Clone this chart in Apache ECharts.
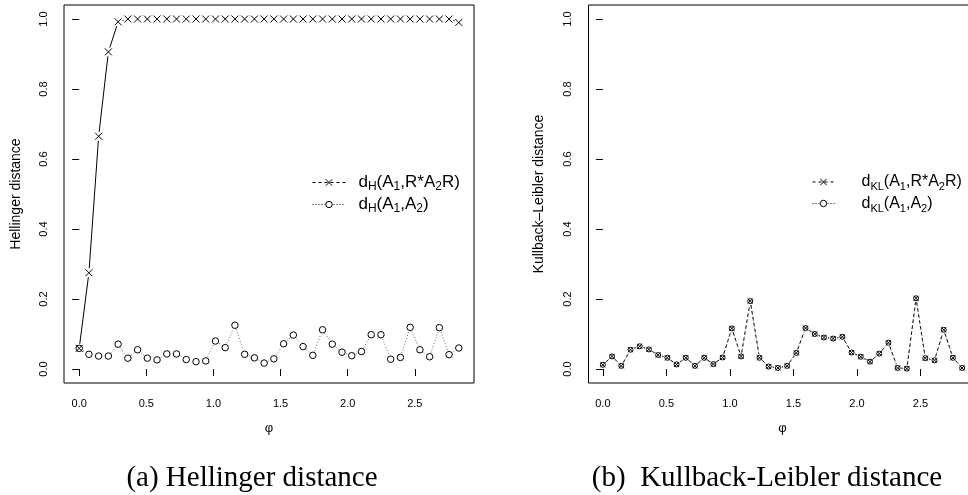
<!DOCTYPE html>
<html><head><meta charset="utf-8">
<script src="https://cdn.jsdelivr.net/npm/echarts@6/dist/echarts.min.js"></script>
<style>html,body{margin:0;padding:0;background:#fff}#c{width:968px;height:495px}</style>
</head><body><div id="c"></div>
<script>
// φ values (x positions of the 40 samples)
const phi = [0.0000,0.0725,0.1450,0.2175,0.2900,0.3625,0.4350,0.5075,0.5800,0.6525,
             0.7250,0.7975,0.8700,0.9425,1.0150,1.0875,1.1600,1.2325,1.3050,1.3775,
             1.4500,1.5225,1.5950,1.6675,1.7400,1.8125,1.8850,1.9575,2.0300,2.1025,
             2.1750,2.2475,2.3200,2.3925,2.4650,2.5375,2.6100,2.6825,2.7550,2.8275];
// Hellinger distance d_H(A1, R*A2R)
const hellRot = [0.059,0.275,0.665,0.906,0.992,1,1,1,1,1,
                 1,1,1,1,1,1,1,1,1,1,
                 1,1,1,1,1,1,1,1,1,1,
                 1,1,1,1,1,1,1,1,1,0.990];
// Hellinger distance d_H(A1, A2)
const hellA2 = [0.059,0.042,0.037,0.037,0.071,0.031,0.055,0.031,0.026,0.043,
                0.043,0.027,0.021,0.023,0.080,0.061,0.125,0.042,0.032,0.017,
                0.029,0.072,0.097,0.064,0.039,0.112,0.071,0.048,0.038,0.050,
                0.098,0.098,0.028,0.033,0.119,0.055,0.035,0.118,0.041,0.060];
// Kullback-Leibler distance d_KL(A1, R*A2R)
const klRot = [0.012,0.036,0.009,0.055,0.065,0.056,0.040,0.032,0.013,0.032,
               0.009,0.032,0.014,0.033,0.116,0.036,0.194,0.032,0.007,0.003,
               0.009,0.046,0.117,0.100,0.090,0.087,0.092,0.047,0.035,0.021,
               0.044,0.075,0.003,0.001,0.202,0.031,0.025,0.112,0.032,0.003];
// Kullback-Leibler distance d_KL(A1, A2)
const klA2 = [0.012,0.036,0.009,0.055,0.065,0.056,0.040,0.032,0.013,0.032,
              0.009,0.032,0.014,0.033,0.116,0.036,0.194,0.032,0.007,0.003,
              0.009,0.046,0.117,0.100,0.090,0.087,0.092,0.047,0.035,0.021,
              0.044,0.075,0.003,0.001,0.202,0.031,0.025,0.112,0.032,0.003];
const xTicks = [0, 0.5, 1, 1.5, 2, 2.5];
const yTicks = [0, 0.2, 0.4, 0.6, 0.8, 1.0];
const names = {
  hRot: 'd_H(A_1,R*A_2R)', hA2: 'd_H(A_1,A_2)',
  kRot: 'd_KL(A_1,R*A_2R)', kA2: 'd_KL(A_1,A_2)'
};
const richNames = {
  'd_H(A_1,R*A_2R)': '{m|d}{s|H}{m|(A}{s|1}{m|,R*A}{s|2}{m|R)}',
  'd_H(A_1,A_2)': '{m|d}{s|H}{m|(A}{s|1}{m|,A}{s|2}{m|)}',
  'd_KL(A_1,R*A_2R)': '{m|d}{s|KL}{m|(A}{s|1}{m|,R*A}{s|2}{m|R)}',
  'd_KL(A_1,A_2)': '{m|d}{s|KL}{m|(A}{s|1}{m|,A}{s|2}{m|)}'
};
const captions = ['(a) Hellinger distance', '(b)  Kullback-Leibler distance'];
const yTitles = ['Hellinger distance', 'Kullback\u2013Leibler distance'];

const FONT = '"Liberation Sans", Arial, Helvetica, sans-serif';
const CROSS = 'path://M0,0L10,10M0,10L10,0';

function pairs(ys) { return phi.map((x, i) => [x, ys[i]]); }
function segs(ys) {
  const out = [];
  for (let i = 0; i < phi.length - 1; i++) out.push([phi[i], ys[i], phi[i + 1], ys[i + 1]]);
  return out;
}
function gapLine(gi, ys, gap, style) {
  return {
    type: 'custom', xAxisIndex: gi, yAxisIndex: gi, silent: true, z: 1,
    data: segs(ys), encode: { x: [0, 2], y: [1, 3] }, animation: false,
    renderItem(params, api) {
      const a = api.coord([api.value(0), api.value(1)]);
      const b = api.coord([api.value(2), api.value(3)]);
      const dx = b[0] - a[0], dy = b[1] - a[1], L = Math.hypot(dx, dy);
      if (L <= 2 * gap + 1) return { type: 'group', children: [] };
      const ux = dx / L, uy = dy / L;
      return {
        type: 'line',
        shape: { x1: a[0] + ux * gap, y1: a[1] + uy * gap, x2: b[0] - ux * gap, y2: b[1] - uy * gap },
        style: Object.assign({ fill: null }, style)
      };
    }
  };
}
function marks(gi, name, ys, kind, size) {
  return {
    type: 'line', name, xAxisIndex: gi, yAxisIndex: gi, data: pairs(ys), z: 3,
    symbol: kind === 'x' ? CROSS : 'circle', symbolSize: size, showAllSymbol: true,
    lineStyle: { width: 0, opacity: 0 },
    itemStyle: { color: kind === 'x' ? '#000' : 'rgba(0,0,0,0)', borderColor: '#000', borderWidth: 1 },
    emphasis: { disabled: true }, animation: false
  };
}
function xAxis(gi) {
  return {
    type: 'value', gridIndex: gi, min: -0.1131, max: 2.9406,
    axisLine: { show: false },
    axisTick: { show: true, customValues: xTicks, length: 7, lineStyle: { color: '#000', width: 1 } },
    axisLabel: { show: true, customValues: xTicks, formatter: v => v.toFixed(1), margin: 15,
                 fontFamily: FONT, fontSize: 11, color: '#000' },
    splitLine: { show: false },
    name: '\u03c6', nameLocation: 'middle', nameGap: 39,
    nameTextStyle: { fontFamily: FONT, fontSize: 13, color: '#000' }
  };
}
function yAxis(gi) {
  return {
    type: 'value', gridIndex: gi, min: -0.04, max: 1.04,
    axisLine: { show: false },
    axisTick: { show: true, customValues: yTicks, length: 7, lineStyle: { color: '#000', width: 1 } },
    axisLabel: { show: true, customValues: yTicks, formatter: v => v.toFixed(1), rotate: 90, margin: 15,
                 fontFamily: FONT, fontSize: 11, color: '#000' },
    splitLine: { show: false },
    name: yTitles[gi], nameLocation: 'middle', nameGap: gi === 0 ? 41 : 42, nameRotate: 90,
    nameTextStyle: { fontFamily: FONT, fontSize: 14, color: '#000' }
  };
}
function richFor(main, sub) {
  return {
    m: { fontFamily: FONT, fontSize: main, color: '#000', lineHeight: 21 },
    s: { fontFamily: FONT, fontSize: sub, color: '#000', lineHeight: sub, verticalAlign: 'bottom' }
  };
}
function legend(n1, n2, left, iconW, pad, main, sub) {
  return {
    orient: 'vertical', left, top: 174, itemWidth: iconW, itemHeight: 8, itemGap: 3,
    selectedMode: false, padding: 0,
    formatter: n => richNames[n],
    textStyle: { rich: richFor(main, sub), padding: [0, 0, 0, pad] },
    data: [
      { name: n1, lineStyle: { color: '#000', width: 1, type: [3, 3], opacity: 1 },
        itemStyle: { color: '#000', borderColor: '#000', borderWidth: 1, opacity: 1 } },
      { name: n2, lineStyle: { color: '#000', width: 1, type: [1, 2], opacity: 1 },
        itemStyle: { color: '#fff', borderColor: '#000', borderWidth: 1, opacity: 1 } }
    ]
  };
}

const chart = echarts.init(document.getElementById('c'), null, { renderer: 'canvas' });
chart.setOption({
  backgroundColor: '#fff',
  animation: false,
  grid: [
    { left: 64, top: 5, width: 410, height: 378, show: true, borderColor: '#000', borderWidth: 1,
      backgroundColor: 'transparent', outerBoundsMode: 'none', containLabel: false },
    { left: 588.5, top: 5, width: 388, height: 378, show: true, borderColor: '#000', borderWidth: 1,
      backgroundColor: 'transparent', outerBoundsMode: 'none', containLabel: false }
  ],
  xAxis: [xAxis(0), xAxis(1)],
  yAxis: [yAxis(0), yAxis(1)],
  legend: [legend(names.hRot, names.hA2, 312, 33, 8, 17, 12), legend(names.kRot, names.kA2, 812, 22, 22, 16, 11)],
  series: [
    gapLine(0, hellRot, 4.5, { stroke: '#000', lineWidth: 1 }),
    gapLine(0, hellA2, 4.5, { stroke: '#666', lineWidth: 1, lineDash: [1, 2] }),
    marks(0, names.hRot, hellRot, 'x', 7),
    marks(0, names.hA2, hellA2, 'o', 6.5),
    gapLine(1, klRot, 4, { stroke: '#000', lineWidth: 1, lineDash: [3, 3] }),
    gapLine(1, klA2, 4, { stroke: '#555', lineWidth: 1, lineDash: [1, 2] }),
    marks(1, names.kRot, klRot, 'x', 5),
    marks(1, names.kA2, klA2, 'o', 5)
  ],
  graphic: [
    { type: 'text', style: { text: captions[0], x: 252, y: 478, textAlign: 'center', textVerticalAlign: 'middle',
      font: '29px "Liberation Serif", "Times New Roman", serif', fill: '#000' } },
    { type: 'text', style: { text: captions[1], x: 767, y: 478, textAlign: 'center', textVerticalAlign: 'middle',
      font: '29px "Liberation Serif", "Times New Roman", serif', fill: '#000' } }
  ]
});
</script>
</body></html>
